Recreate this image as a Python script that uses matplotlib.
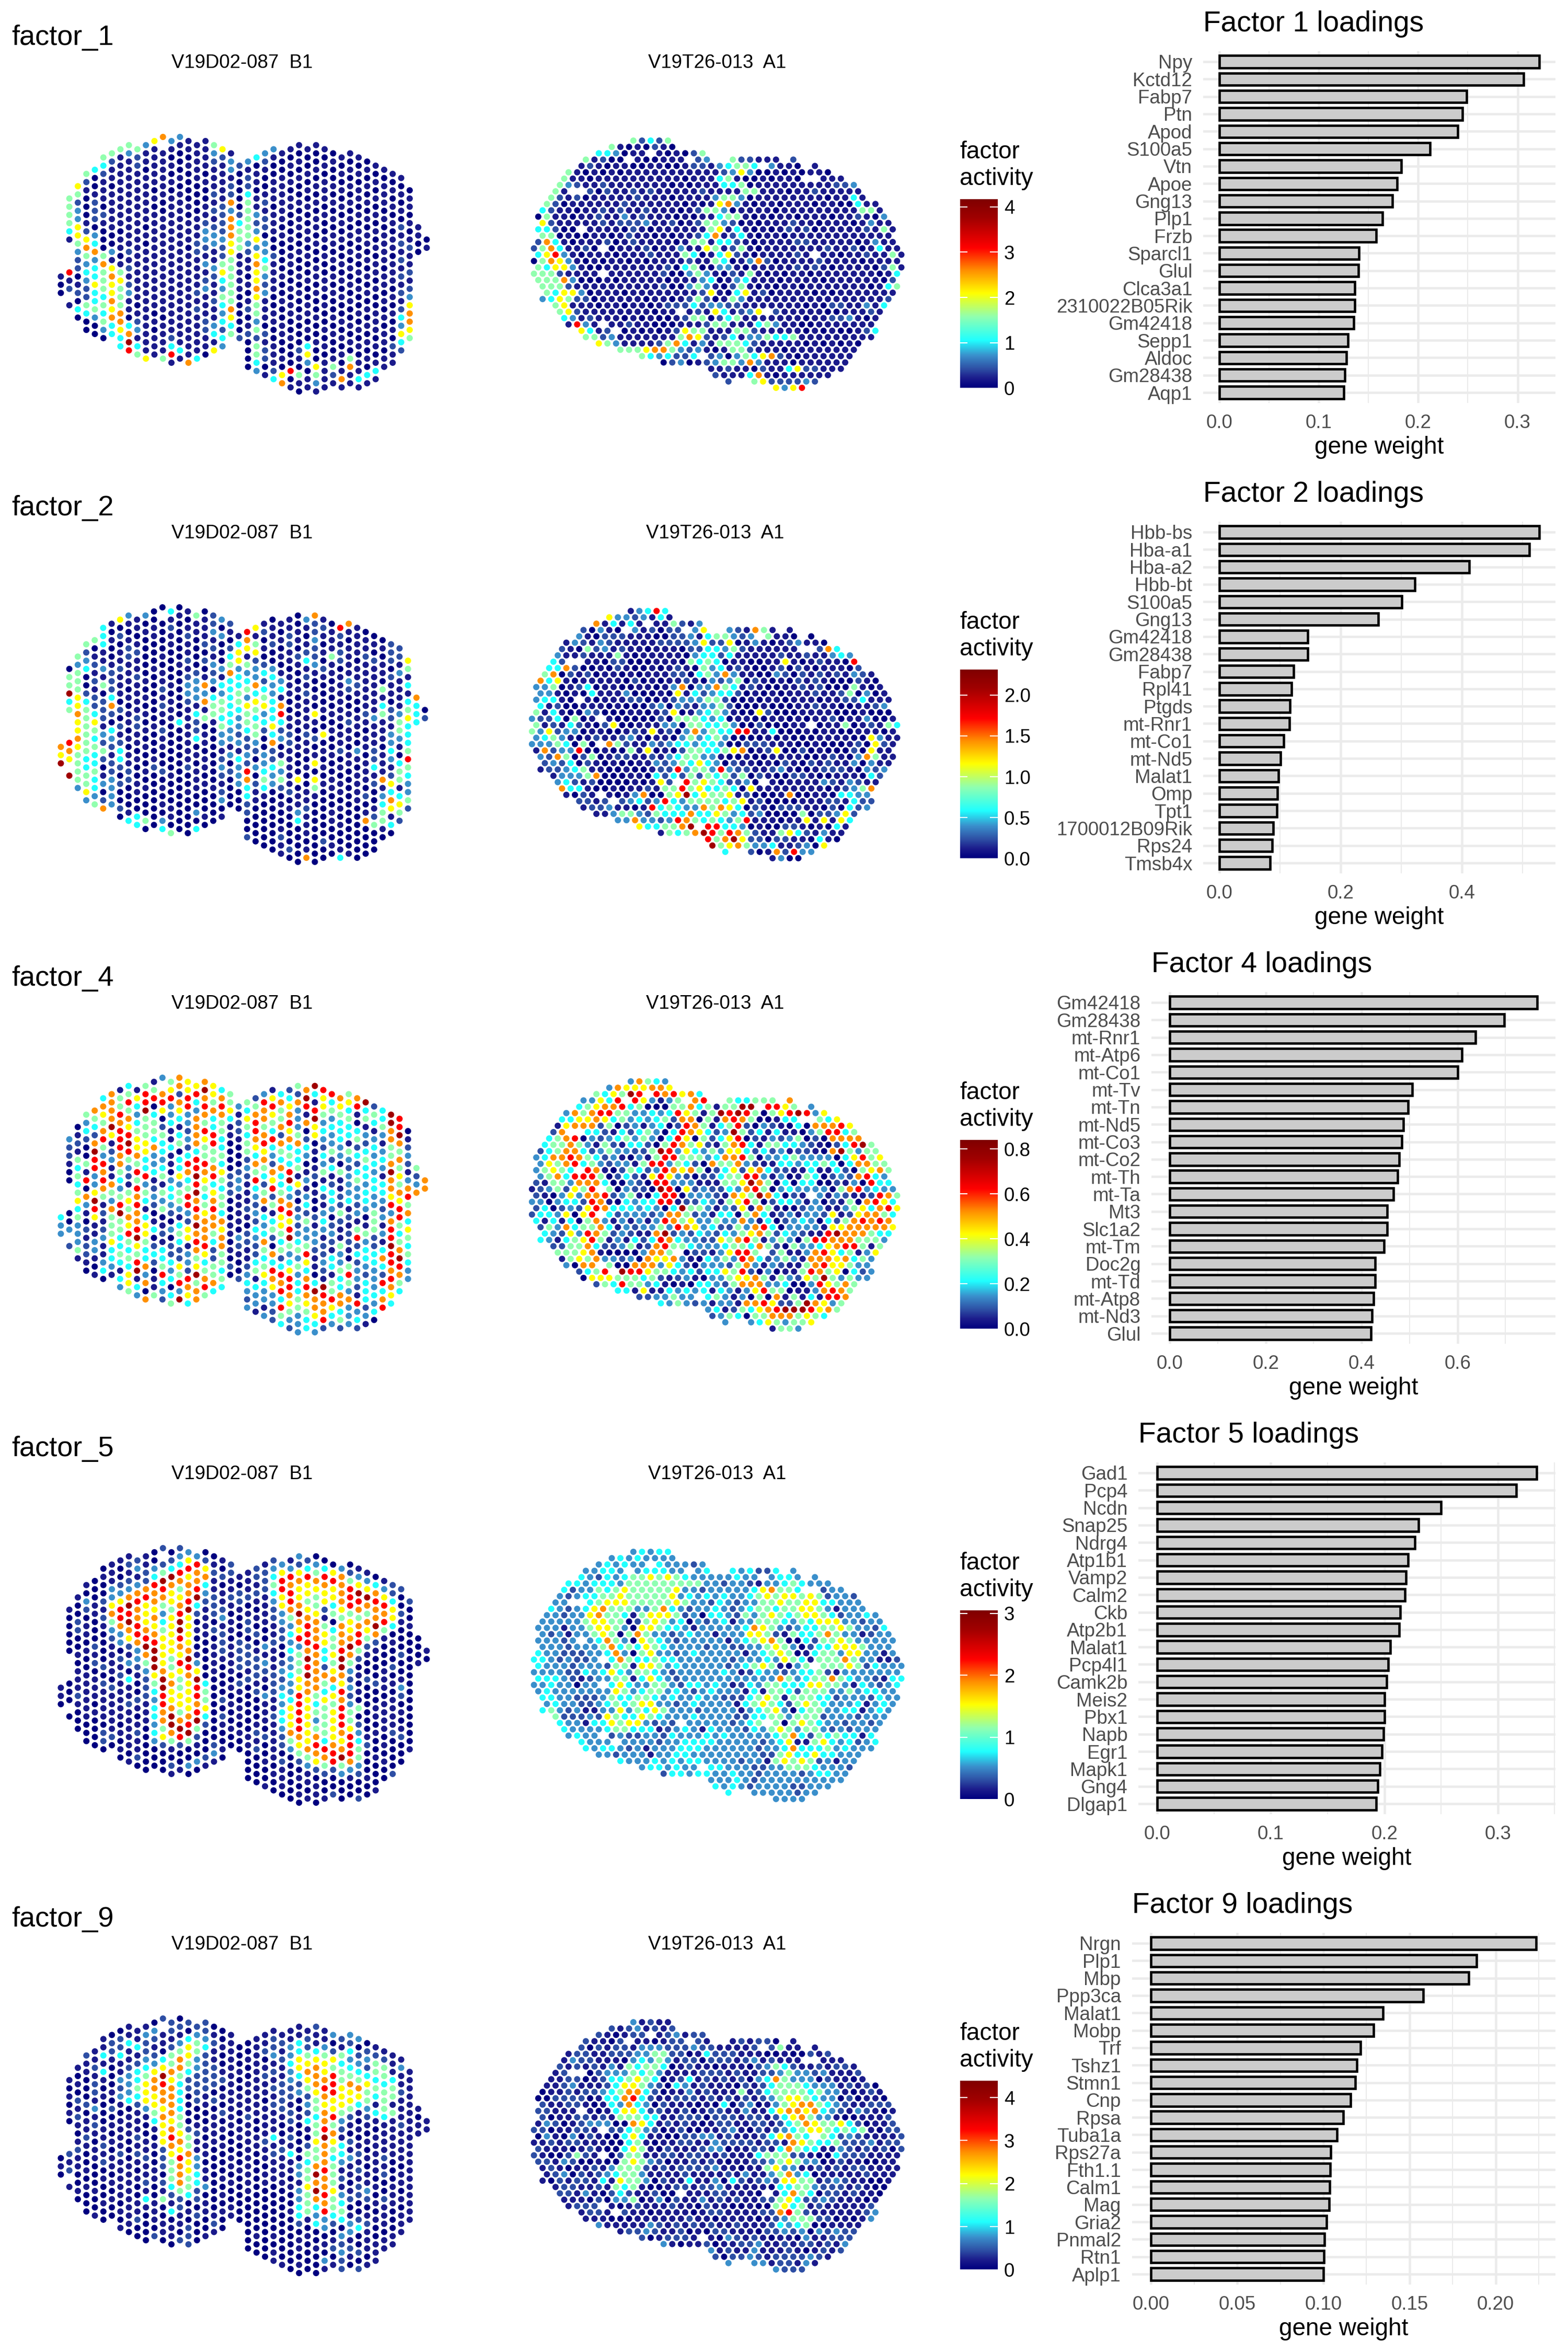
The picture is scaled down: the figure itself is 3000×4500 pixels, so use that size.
import numpy as np
import matplotlib
matplotlib.use("Agg")
import matplotlib.pyplot as plt
from matplotlib.colors import LinearSegmentedColormap

plt.rcParams['font.family'] = ['Liberation Sans', 'DejaVu Sans']

W, H = 3000, 4500
FACTORS = ["factor_1", "factor_2", "factor_4", "factor_5", "factor_9"]
NUMS = [1, 2, 4, 5, 9]
ACT_MAX = [4.17, 2.31, 0.84, 3.05, 4.39]
LEG_TICKS = [[0, 1, 2, 3, 4], [0, .5, 1, 1.5, 2], [0, .2, .4, .6, .8], [0, 1, 2, 3], [0, 1, 2, 3, 4]]
LEG_FMT = ["%d", "%.1f", "%.1f", "%d", "%d"]

GENES = [
 ["Npy","Kctd12","Fabp7","Ptn","Apod","S100a5","Vtn","Apoe","Gng13","Plp1","Frzb","Sparcl1","Glul","Clca3a1","2310022B05Rik","Gm42418","Sepp1","Aldoc","Gm28438","Aqp1"],
 ["Hbb-bs","Hba-a1","Hba-a2","Hbb-bt","S100a5","Gng13","Gm42418","Gm28438","Fabp7","Rpl41","Ptgds","mt-Rnr1","mt-Co1","mt-Nd5","Malat1","Omp","Tpt1","1700012B09Rik","Rps24","Tmsb4x"],
 ["Gm42418","Gm28438","mt-Rnr1","mt-Atp6","mt-Co1","mt-Tv","mt-Tn","mt-Nd5","mt-Co3","mt-Co2","mt-Th","mt-Ta","Mt3","Slc1a2","mt-Tm","Doc2g","mt-Td","mt-Atp8","mt-Nd3","Glul"],
 ["Gad1","Pcp4","Ncdn","Snap25","Ndrg4","Atp1b1","Vamp2","Calm2","Ckb","Atp2b1","Malat1","Pcp4l1","Camk2b","Meis2","Pbx1","Napb","Egr1","Mapk1","Gng4","Dlgap1"],
 ["Nrgn","Plp1","Mbp","Ppp3ca","Malat1","Mobp","Trf","Tshz1","Stmn1","Cnp","Rpsa","Tuba1a","Rps27a","Fth1.1","Calm1","Mag","Gria2","Pnmal2","Rtn1","Aplp1"],
]
WEIGHTS = [
 [.322,.306,.2485,.2445,.2396,.2118,.1832,.1788,.174,.1639,.1579,.1405,.1402,.1365,.1365,.135,.1297,.1277,.1265,.1253],
 [.528,.511,.412,.323,.301,.262,.146,.146,.123,.119,.117,.116,.106,.101,.098,.096,.095,.089,.087,.084],
 [.766,.697,.638,.609,.600,.506,.497,.4875,.484,.478,.475,.466,.453,.453,.447,.428,.428,.425,.422,.420],
 [.334,.316,.250,.230,.227,.221,.219,.218,.214,.213,.205,.2035,.202,.200,.200,.199,.198,.196,.194,.193],
 [.2235,.1888,.1844,.158,.1347,.129,.1214,.1195,.1184,.1158,.1116,.1079,.1042,.104,.1037,.1033,.1019,.1005,.1002,.100],
]
X_MAJOR = [[0,.1,.2,.3],[0,.2,.4],[0,.2,.4,.6],[0,.1,.2,.3],[0,.05,.1,.15,.2]]
X_FMT = ["%.1f","%.1f","%.1f","%.1f","%.2f"]
BAR_LEFT = [2302, 2302, 2203, 2178, 2165.5]
BAR_RIGHT = 2976

LEVEL = {'0':0,'1':.05,'2':.10,'3':.17,'4':.25,'5':.375,'6':.50,'7':.62,'8':.74,'9':.90}
STOPS = [(0,"#00007F"),(.05,"#1C1C8C"),(.10,"#2E50A5"),(.17,"#3A90CC"),(.25,"#20FFFF"),(.375,"#90FFB0"),
         (.50,"#FFFF00"),(.62,"#FF9000"),(.74,"#FF0000"),(.90,"#A00000"),(1,"#7F0000")]
CMAP = LinearSegmentedColormap.from_list("act", STOPS)

L_FIRST = [34,15,12,9,8,5,4,3,2,3,2,1,0,1,0,1,2,1,2,3,4,7,6,5,4,3,4,3,2,3,2,3,4,5,4,5,6,7,8,9,10,13,22,25]
L_SLOTS = [3,14,17,20,21,23,23,25,26,26,27,27,28,28,28,28,27,27,26,25,23,22,26,27,28,29,29,30,31,30,31,30,29,29,29,29,28,27,25,24,22,19,4,2]
L_EMPTY = {1:[6,7,8,12],12:[1]}
R_FIRST = [23,18,15,12,11,8,7,6,5,4,3,2,1,2,1,2,1,0,1,0,1,0,1,2,3,2,5,6,7,8,11,12,15,20,25,30,41,42,45,56]
R_SLOTS = [5,8,13,25,28,31,33,35,36,37,39,40,41,41,42,41,42,43,43,43,43,43,42,42,41,41,39,38,37,36,35,34,31,28,25,22,16,14,11,4]
R_EMPTY = {2:[6],3:[5,12,15,16,23],4:[21,26],6:[28,29],8:[2,3],14:[5],17:[8],18:[32],21:[8],27:[14,24],29:[4],30:[4],34:[7],38:[1,2]}

F1_L = ["100","5555418121","65233665322012040","52100012675343225400","400122203473446445300",
"54211102100057555454530","52110111110031676676744","5111111111011015655577644","53111111111112121231104798","52211111111111111110123145",
"311011111101011111111111116","61111101011111111111101011","711111100111111111111011115",
"310101011111111111111111248","310001011111111111111111114","1101000010111011111111111117",
"111110000111221111212111114","111101001123321312311122110",
"53211121212331132112113416","62111112222322564354342437",
"1331227377766555555764 55","2000002455 5 1 1 1 1 1 0 0 0 0 0 2 0 0 0 0 0",
"31224555553211010120120000 00","40110113236367667655352554325 64",
"32100121220334532311102122017 51","3100111011100211110011001112 41","100111111010000100100110010 67 1",
"1010101100010110010110010 00 80","1010100101100100101001000210 5 1 0",
"100101010011010010011010 4 6 3 0","1001010101101001101001001 00 6 5 3",
"1010111010010100110100101011","01001010101101010100101001 5 2","1010101010100101010010101 01 7",
"101010101010101010100101 0 5 7","10101101011010101001010101 1 4 1","01010101011010101010101010 4",
"1010101010101101001110101 4","101110101111011010101101","1010101011011101010102 1",
"10101021212121212436421","0110101211212367765777346","1100111012468777665555555","0136","14"]

F2_L = ["769","0559458769","53555667667655553","52340024555555445563","501212122465454454435",
"44411315022213252013027","10100122247204321223333","6020112111020212442020020","31012211101011010112200014","11012112111122110100110044",
"30100000101010101001010005","0011000100000010001200000004","000001011212102110020101034","4121100001011100000010001105",
"0100000100000040000000000000","10121121233211111112001000","511000023331422401011100304","01112020173715011011010001 0",
"2231213230455100000001000","303000314355453312321230114",
"21024574444443313020000","146634455433231433300",
"87615345365542232874422002 3","6156233746545532030211000 00",
"120102424563420033454100000 0","01120034334446472243300000000",
"10101013417842301535201001211","11221101110011221111120100002",
"001102100101010010006011340000 0","310124121211112110100112111017",
"7223223100106102016065100000000","121010210001006010101000000200",
"011151101001010010011001100100","82122011111101120101101010014",
"71011113200121101100000000001","11110112100110031011110000000",
"0112111111210110111020170000","010211111131112241200125000",
"01011051451110111713455 10","222021102213343126476 14",
"2213111135531045514652808","651414564445854335267416",
"7444444444442436333","021134854574485 6",
"001","87"]

F4_L = ["433","3221000032","01215454564533351 40","53420051807310212210 0",
"754279883369861133101 0","4765785387875121231134 0",
"7777961231175375556443 1","1558788877543589554454143","45857689853215657685454665","16434566758587877 89865894 4"[:0]+"16434566758587877896589 14",
"588955566448354146654474 3707"[:0]+"588955566448354146654473707","158045547334123201402420115",
"387 8602544345153501214458 432"[:0]+"378602544345153501214458432","5683341141103443203022434045 6"[:0]+"5683341141103443203022434045",
"7727641450446355311454522 6583 9"[:0]+"7727641450446355311454226 58 39"[:0]+"7727641450446355314542265839",
"668833232487458 8 3 2 6 6 1 3 3 2 8 7 6 4 7 7",
"684377774889897879787569577650","797875865587654567778645785 64 3",
"6657448855784678775422557463 14","478755445465455476775545434 26",
"5564110000222000110 10 2005","312210002331111032100201",
"54654552321112102211234 32","25788764758432324322451433 1","387757867542571434754564331 3",
"1686548432768251452074876332 2","47557275474457866545248784 8541","246786745489437868953468876532 4",
"5273335744516202323453534455 ","79817024301313425335864787654 42","9418966010120100213321104977 64",
"86653432435142134312232198 778243","845343352412443023214415586431","76544433051122521153354477452",
"56454415323334121 221058537 3","78104524245332315824233218342","945132454434430153443244423 1",
"254134343443355522443334340","4453134 3144323131 4 7 4 2 8 4 7 8","997755 797768378898878764 ",
"8897575657688545798754","0123213785746545 4","5237","77"]

F5_L = ["110","1000000000","10022001011121000","10320110100111111000","000110002120111010000",
"01002121000020211110220","11133675321111021111120","1002368873302121111101010","12123798976213041121111101",
"23137877887332100210121120","112278666789753222111000000","003487767678999654344343000","225987534566667998877562000",
"0249766566666556766799751021","2348756789987686556657982001","3686778966667987666678950030",
"387789420100136988789521030","026743211110000045564200021","01211222020111100000000231",
"1020112312221000020210010","22112101101111010100100","1022100022220210110100",
"11120122022212000000110000","221210102012221200012120000","1222111100313210311102001001",
"23454322112111222112111110100","36886633220023234344322021110","138788753434334334666753000000",
"3267667976835556688888765201 010","248665678887989776666667531101","0357655677787777754535787620110",
"048766215664427546555548752001","06866450455656746566667882002","37777657778997687888767953000",
"02588856679753232355688873100","13698757885201010502345532002","1369757652100200000012000100",
"047877972100020011010010001","1368785100011101111010100","224664010020101111200002",
"2002100020013201012000","2001000000000000001","0001","10"]

F9_L = ["010","1010102121","10102121012110010","21100020112100101000","112122131210110001001",
"11414101000112120100100","02210001020101011010100","0224113231011112111110101",
"11411233340111000111111110","11412445421112121010011200","132234566631001121121410000",
"032123677665410100110011102","211046987767666222021500110","2212557677776787655542140110",
"0213577544445567687775221102","2046654220000255766554010222","235533222200121133442202000",
"223422222110010110113011001","01211222020111100000000121",
"0010012010201010001010100","11111 1 1 1 1 1 1 1 0 0 0 1 1 0 1 0 0","000100 1 1 0 0 1 1 0 0 0 1 0 0 0 0 0 0",
"00100111121111111110000000","111111111100110000000000100","1 1 2 0 1 2 1 1 0 1 1 1 1 2 1 1 0 1 1 0 0 0 0 0 0 0 0 0",
"12231212121114121110000001011","12121 1 2 2 2 2 1 0 0 1 2 1 1 1 1 0 0 0 0 0 0 0 0 0 1","113343322122121411010010 00000 0",
"1144664230010000033133442011010","122567652324102545565551010000","2114677765545565579797434001000",
"113566787677897778778783301031","30265888668576545556554201201","21545566653214431213454032322",
"324345766521021311012 01331210","30234576410101212122002400202","0232465532101010113201211101",
"125545414101111101010100","1255455541111212002111011",
"111455151111100011100 0","1311211121111011010 ","1111","10"]

F1_R = ["52425","51010210","443011101025","51200100111235221112","12101100110012213455431101 5",
"51010101111111111123630010101100111 4","51101111111111011145100101 10111","5321121111111010111445011111111 12231",
"5120211212111112111155111011211111 2","521201111121110111135530111111110 114","52011111121111110101673101 101110110 04",
"4211011212112111012553011110111111111 55","05110112113121110101145510101101110112103","6211111212 22 3112012553 20101112110111013",
"44200111102101111115614101012120111112 15","5501001101211010112 4712 4101101111111111","27410111201211110155144 21011112211111013 1",
"257411200111201131165 12 5101111111211201 4","046831 10111011121 1154 0146210111121110112 115"[:0]+"468310111011121115401462101111211101121 15",
"057631 0101101011112 115401372011112111101111 12","54663100111111120450 0331011111212101111 025","555211111111112003531021 51010110111111101 45",
"55573 0001011111011134 013411101111011111102 5","55521111111111 200353 10 25101011011111110145","5466301110111111112610461 2011110101111111155",
"34652201111101101 2520153111111111111111125","5611101101101222423322111111101022113145","562111111110111216412362111110011121143 55",
"431211101010012550245111111101122310","1831112110001112551114531100111111 12326","64120101012655111155211111010100124 1"[:0]+"6412010101265511155211111010100124 5",
"552311111115762124133544511111111112156","65 311112574 1315554211111010101 02 4","555677532310155211101111111124",
"5434224230354672101111110136","02301235537311101111110116 5","1121102114622111120111135","21114710111111101 5",
"25622 2 2 3 2","6368"]

F2_R = ["13484","63323141","714141115213 5","20310312022363217 5".replace("7 5","75"),
"31022211100223145532351100 5","13213211111222236226013101 23110","21052312110111022443521111112 74",
"31121115101111103442411111211211343 3","4211022000111054540110011 61012110 8","44720010210010121053412100120 210111 02 3",
"57021201101011122045373110032021212132","7461011111020101121032350210102121000210 0","33501240110011013 70337541210011 2120005 1 0",
"33101041113000106142344201010111211 25 03 0","344101011122001233 355 200101101110112 24","41200111010002303213352000100011211001 123",
"5141003200011012 601345310062000111 100010005 2","32240 5011000002 05554340110011010112011300","51214210260011 1330 554 453003 2000110110501 45"[:0]+"512142102600111330554453002000110115012 154",
"53623301100121612037354488114000101100111012 2","345310121123101103534530000101000111100 63","33354050752113234434430 022211100100012 0 62",
"172338001005160102554456701260020100020 61110","32750250122112134553310010011110012103 75","23240210100113235464 302110102102121 130 3",
"12234511001001228355383 2211231 0012221 03 232","133357000110424252545 25 021002210011104 23","3421200001016285654223010111132132 11",
"74410010112155856445406111111110123572 2","1021101370056 94655 6120001700110443 3","22122342 3843 55554561200001 1122142 221","1223110184543375 7640210222110204 23",
"1135532 54447446534 2300005022 36 2","3373323875454 3581110116 1 61 64","64455798844301002210104","15457985875211 5642 13",
"8579622022110410","95675334112306","420172 833","1300"]

F4_R = ["37543","37666776","546598878674","33648863135785445557",
"45677845000557451559988 65","375788553343486515989 8505689836","44667645343452770517875001445 46","167772502313402875145820321040 7778 6",
"274421424530487642395241411035884 5","4578032345353048605246802132350207777","4557531521442058756215784155443210248953",
"2457742353322598364353664242312210795355 6","34778754231031588555347785033453333046856","36578453233158835 420755732114434454047755",
"35654871 025423876750246267422114114205675 5","357488850242168632022455883130154023 2784","215537774003 2088333111556975040440 0213084 4",
"123526585032209806232243785034333305 7834","21036377823510488033 3 2176 5974021313211 2875 4","33034428710434488 12 243156850244313021 50786 4",
"24023268744434 3049553132 61751002331135 6 478674","24436068423332377523144057412313326126775 45","41414057313 1313875633533 7314023430425787875 2","25374557413233538763422537 84033331667777767 3",
"432638752321 1792324324356752432118977754 4","431456851314 24874332265785135305887775 5 5","225574223512785543334554752053346 7885156 5","5556710000 377502213688525113786451 36",
"15657 3323076673104353874235317776745 3","30775007773642033325731321157866533","2458988655434244658203011587560 42","0666555452123103356675153265 95 3533",
"254855341010443257773340038657 5","441611434341431368550113787 55","2233533453130507151418873 6","4353231331778622597 635",
"34125467899 9 8 6 7 5 4","23540557775654","334653556","1553"]

F5_R = ["34344","34343333","343433433323","33443344433344342 2 4".replace("2 2 4","224"),
"43243455656543333343334433 31","44344435555555553323321334543333 3","4233545655555633233333 346755426 33"[:0]+"42335456555556332333334675542 33",
"32344556555556343434334565665652 33233","33456665555565332432335565566443331 3","4323467555335743233432 3455455665313 33",
"332 3367554156665230443253565456654233 4","3333356655025653403234133555 4354666 33 23","33313356653066544313333347653 2344556 533 24",
"323133 565057533234331333 66521544575331 2","33323347530654323333313 45675 004255 65 333 3","333233357454654 3333233 22335653024466 653331 3",
"4332223347 30563323433333 1345650145536 63 313","4432322347544 54433333323 33 4365415557 5 3 3112","43332333255 1 66534333332 3456510355556 52433 3",
"33332243 464355 432333334 3 12 4332 3445 21 3","44432123355 14643233333333333 7534557543321 44","3343303346433553244343 12 435544466 55 3143 2 3 4",
"34333333365 345534323433 31 41 554255533534433","4433222354455 43433 4332 2245651555442333 24","343322345456 63323433331 456542565433341 34",
"4532311336 354 653332333313456304 553344 1 3 4","522232654465 43334333322 44553555233 32333","43314 465663 232333332345 505654332 3 323",
"4333345544412343143332 4 3 565355 3 23 23334","3433232233243 33 434333334 574254 5 44 14334","433333332 3344443333323 46 1156 43423 4 3 3 ",
"43443231 3334443333332 3 347444534 3 3 3 3 4 3","332333133 44333333332 25644 6 4 4 3 3 3 3 3","4333434344 333 3 2 3 3 1 5 6 5 6 5 2 3 1 3 3",
"3443433443332 2 3 3 5 5 5 4 3 3 3 2 3","244344334 33 2 3 3 3 3 2 3 4 4 3 3 3","33343233333 33 3 3 3",
"43432333 3 2 2 3 3 3","433333233","3333"]

F9_R = ["31211","21231212","210122123122","21102110122211212 20".replace("2 20","220"),
"20212213332223221 1112 2 51".replace(" ",""),"12211222335522014222111001 0021 21","13221110343531220222123121 1111","212121315455 4012110111023 54211212 21",
"1202333545 31111222121122 35 33231112 1","1122012445 65 401241212120347533 30211 0","112311124 66 532 04 3121110212455 54333 1212 01",
"011212234577420113 1211 1512 4555 5453 31 0121 2","00222201447 84211222121212123566 543302011 01","2112210143 74302111010402301356775 4 32 1 1 2 2 2",
"221111014664 2211 2012211 3 11467 7 6 7432132 1 0","2 011221215554 4 11222 0222 12 2 1 2 4 6 7 5 3 3 1 0 0 1 1 1 2 1 2 1 1",
"1320123330 07641 21210 12 21122 1 24 5 7 6 5 5 6 4 2 0 1 1 2 1","220112212245320120 011 23 1021 2 3 4 5 6 6 5 4 5 4 5 1 0 2 2 3 2",
"031030210046411 00 2233121112467 5 4 5 4 2 3 2 1 1 1 1 2","112122 111004510 1122 1 1 3 2 2 2 2 1 2 2 1 7 6 5 4 4 5 2 2 2 3 1 2 2 1 1 1",
"2111012100 4651 0 2 1 1 1 2 3 3 0 1 1 2 2 1 4 7 5 4 4 1 1 3 2 1 2 1 2 0 2","21 00252102551 1 2 2 1 2 2 1 1 2 1 1 1 4 5 5 5 2 2 1 0 0 4 2 2 2 1 1 1",
"22132 0010 0565 3 2 0 1 1 2 1 2 1 0 1 1 2 2 3 5 6 5 3 3 0 1 2 1 1 0 0 1 1 1 0","121011213555 2 1 2 1 2 2 2 2 3 1 1 0 1 1 5 6 3 3 1 1 2 1 2 1 2 2 1",
"12302123455 3 1 1 1 1 2 1 1 1 1 2 1 3 1 1 3 5 7 3 4 0 1 1 1 1 1 2 1 1 1","102122 14 16 5 5 3 0 2 1 1 4 1 1 3 0 4 2 1 2 3 2 6 6 5 5 1 2 3 2 1 1 0 0 1 3 0",
"122112154 5 1 0 0 1 2 2 1 2 2 3 1 1 1 1 1 0 4 4 5 5 3 2 2 2 1 2 1 0 0 1 2","221310242 1 1 2 0 0 1 1 1 2 2 1 1 1 0 1 4 7 5 4 0 2 2 1 2 1 1 0 3 1",
"1110 20 3 3 5 0 1 3 0 2 1 1 3 1 2 1 2 1 1 2 2 5 6 4 2 2 3 2 1 1 1 0 1","1222101 2 1 1 1 2 1 1 0 2 1 1 0 0 1 0 0 5 6 4 5 1 2 1 1 1 1 1 2",
"122121 1 0 1 1 1 1 0 1 2 2 1 1 1 1 2 2 7 8 5 2 1 1 1 1 1 1 2 3","111000 1 1 1 1 1 1 2 1 1 0 1 1 1 1 0 1 2 3 5 5 5 2 2 0 1 0 1 3",
"3111113 2 1 2 1 2 1 2 1 1 2 1 1 1 2 4 3 4 5 0 0 1 1 1 1 1 2","122321 1 2 0 1 0 2 2 1 1 1 0 2 2 3 2 3 0 3 2 3 2 2",
"20122 2 1 1 0 3 2 1 2 1 0 1 1 0 3 1 1 2 2 2","31011 2 0 1 1 2 2 3 1 1 2 1 2 2 1 2 1 3",
"3121131112101212","20223212222321","333122131","3222"]

LEFT_VALUES = [F1_L, F2_L, F4_L, F5_L, F9_L]
RIGHT_VALUES = [F1_R, F2_R, F4_R, F5_R, F9_R]
PAD = ['1','0','3','0','1']
RPAD = ['1','1','3','3','1']

def sheet_left(columns, pad):
    xs, ys, ts = [], [], []
    for c, (first, slots) in enumerate(zip(L_FIRST, L_SLOTS)):
        text = columns[c].replace(" ", "") if c < len(columns) else ""
        j = 0
        for i in range(slots):
            if i in L_EMPTY.get(c, []):
                continue
            ch = text[j] if j < len(text) else pad
            j += 1
            xs.append(c); ys.append(first + 2*i); ts.append(LEVEL[ch])
    return xs, ys, ts

def sheet_right(rows, pad):
    xs, ys, ts = [], [], []
    for k, (first, slots) in enumerate(zip(R_FIRST, R_SLOTS)):
        text = rows[k].replace(" ", "") if k < len(rows) else ""
        j = 0
        for i in range(slots):
            if i in R_EMPTY.get(k, []):
                continue
            ch = text[j] if j < len(text) else pad
            j += 1
            xs.append(first + 2*i); ys.append(k); ts.append(LEVEL[ch])
    return xs, ys, ts

def px_axes(fig, x0, y0, x1, y1):
    return fig.add_axes([x0/W, 1 - y1/H, (x1-x0)/W, (y1-y0)/H])

fig = plt.figure(figsize=(10, 15), dpi=300, facecolor="white")
SPOT = 8.3
for n in range(5):
    oy = 900*n
    wide = n in (1, 2)
    vmax = ACT_MAX[n]
    fig.text(22/W, 1-(oy+86)/H, FACTORS[n], fontsize=13, ha="left", va="baseline")
    lx0, lx1 = (116.4, 813) if wide else (116.4, 816.4)
    ax = px_axes(fig, lx0, oy+262, lx1, oy+749)
    xs, ys, ts = sheet_left(LEFT_VALUES[n], PAD[n])
    ax.scatter(xs, ys, c=np.array(ts)*vmax, cmap=CMAP, vmin=0, vmax=vmax, s=SPOT, linewidths=0, clip_on=False)
    ax.set_xlim(0, 43); ax.set_ylim(62, 0); ax.axis("off")
    fig.text(463/W, 1-(oy+120)/H, "V19D02-087  B1", fontsize=8.8, ha="center", va="center")
    rx0, rx1 = (1017.8, 1017.8+85*8.22) if wide else (1021.6, 1021.6+85*8.27)
    ax = px_axes(fig, rx0, oy+269, rx1, oy+742)
    xs, ys, ts = sheet_right(RIGHT_VALUES[n], RPAD[n])
    ax.scatter(xs, ys, c=np.array(ts)*vmax, cmap=CMAP, vmin=0, vmax=vmax, s=SPOT, linewidths=0, clip_on=False)
    ax.set_xlim(0, 85); ax.set_ylim(39, 0); ax.axis("off")
    fig.text((1368 if wide else 1372)/W, 1-(oy+120)/H, "V19T26-013  A1", fontsize=8.8, ha="center", va="center")
    fig.text(1836/W, 1-(oy+291)/H, "factor", fontsize=11, ha="left", va="center")
    fig.text(1836/W, 1-(oy+342)/H, "activity", fontsize=11, ha="left", va="center")
    cax = px_axes(fig, 1837, oy+381, 1908.5, oy+742.5)
    grad = np.linspace(0, vmax, 256).reshape(-1, 1)
    cax.imshow(grad, origin="lower", aspect="auto", cmap=CMAP, vmin=0, vmax=vmax, extent=[0, 1, 0, vmax])
    for sp in cax.spines.values():
        sp.set_visible(False)
    cax.set_xticks([])
    cax.yaxis.tick_right()
    cax.set_yticks(LEG_TICKS[n])
    cax.set_yticklabels([LEG_FMT[n] % t for t in LEG_TICKS[n]], fontsize=8.8)
    cax.tick_params(axis="y", length=0, pad=3)
    for t in LEG_TICKS[n]:
        cax.plot([0, .2], [t, t], color="white", lw=.5, solid_capstyle="butt")
        cax.plot([.8, 1], [t, t], color="white", lw=.5, solid_capstyle="butt")
    cax.set_xlim(0, 1); cax.set_ylim(0, vmax)
    bx = px_axes(fig, BAR_LEFT[n], oy+98, BAR_RIGHT, oy+771)
    vals = WEIGHTS[n]
    y = np.arange(len(vals))
    bx.barh(y, vals, height=.7, color="#CCCCCC", edgecolor="black", linewidth=1.1, zorder=3)
    bx.set_ylim(len(vals)-1+.6, -.6)
    m = max(vals)
    bx.set_xlim(-.05*m, 1.05*m)
    major = X_MAJOR[n]
    step = major[1] - major[0]
    minor = [t + step/2 for t in major if t + step/2 < 1.05*m]
    bx.set_xticks(major)
    bx.set_xticklabels([X_FMT[n] % t for t in major], fontsize=8.8, color="#4D4D4D")
    bx.set_xticks(minor, minor=True)
    bx.set_yticks(y)
    bx.set_yticklabels(GENES[n], fontsize=8.8, color="#4D4D4D")
    bx.tick_params(axis="both", which="both", length=0)
    bx.tick_params(axis="y", pad=5)
    bx.tick_params(axis="x", pad=5)
    bx.grid(True, axis="both", which="major", color="#EBEBEB", lw=1.1, zorder=0)
    bx.grid(True, axis="x", which="minor", color="#EBEBEB", lw=.5, zorder=0)
    bx.set_axisbelow(True)
    for sp in bx.spines.values():
        sp.set_visible(False)
    bx.set_xlabel("gene weight", fontsize=11, labelpad=1.6)
    bx.set_title("Factor %d loadings" % NUMS[n], fontsize=13.2, loc="left", pad=9)

fig.savefig("out.png", dpi=300, facecolor="white")
